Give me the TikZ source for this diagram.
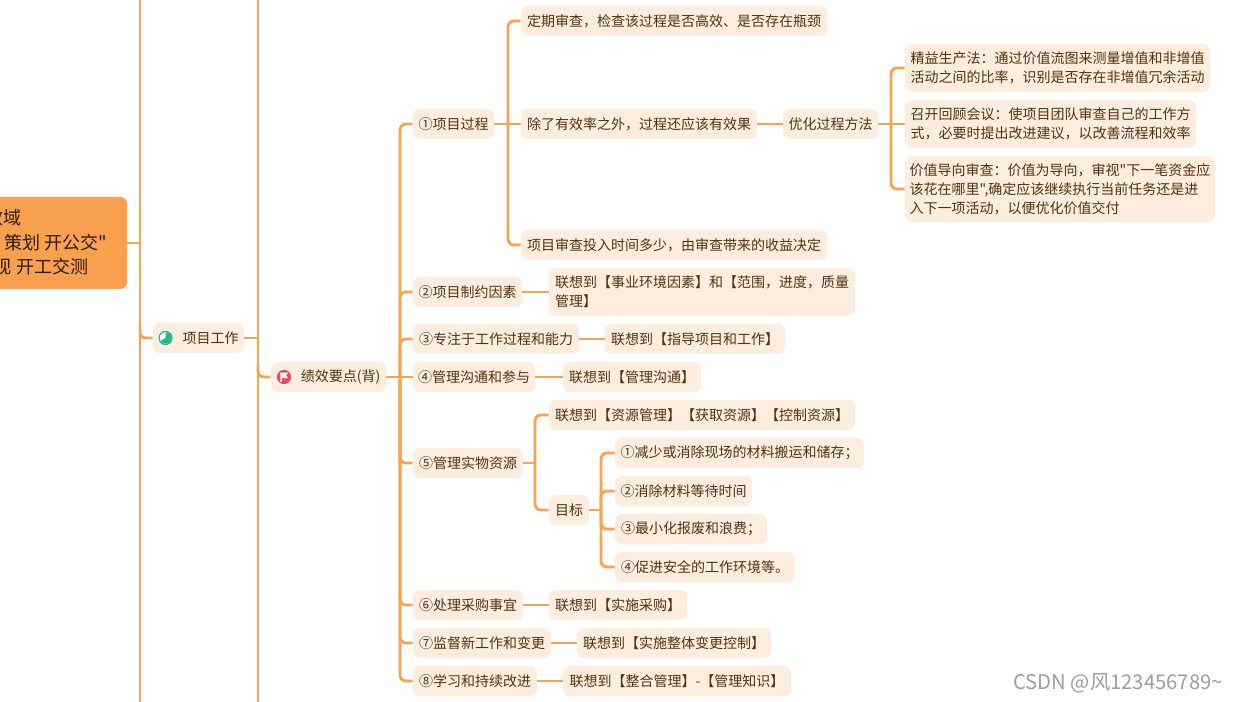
\documentclass[tikz,border=0pt]{standalone}
\usepackage{fontspec}
\newfontfamily\cjkfont{Noto Sans CJK SC}
\definecolor{lineC}{HTML}{F9A351}
\definecolor{fillC}{HTML}{FDEDDF}
\definecolor{textC}{HTML}{52320E}
\definecolor{rootC}{HTML}{F8A04D}
\definecolor{rootT}{HTML}{2A1C0A}
\definecolor{markC}{HTML}{9E9E9E}
\definecolor{greenI}{HTML}{22B883}
\definecolor{redI}{HTML}{EE4A55}
\tikzset{
  conn/.style={draw=lineC,line width=2.1pt,rounded corners=4.5pt},
  topic/.style={fill=fillC,text=textC,rounded corners=5pt,inner sep=0pt,align=left,
    font=\cjkfont\fontsize{10.5}{14.25}\selectfont},
  roottext/.style={text=rootT,inner sep=0pt,anchor=east,font=\cjkfont\fontsize{13.5}{18}\selectfont},
}
% name, x1, x2, centre y, height, text
\newcommand{\topicnode}[6]{%
  \pgfmathsetmacro{\tx}{(#2+#3)/2}\pgfmathsetmacro{\tw}{(#3-#2)*0.75}\pgfmathsetmacro{\th}{#5*0.75}%
  \node[topic,minimum width=\tw pt,minimum height=\th pt] (#1) at (\tx,#4) {#6};}
\begin{document}
\begin{tikzpicture}[x=0.75pt,y=-0.75pt]
\useasboundingbox (0,0) rectangle (1240,702);
\clip (0,0) rectangle (1240,702);
\fill[white] (0,0) rectangle (1240,702);
% spine end points
\coordinate (a0) at (140,-2); \coordinate (a1) at (140,704);
\coordinate (b0) at (258,-2); \coordinate (b1) at (258,704);
\coordinate (ay) at (140,243); \coordinate (ay2) at (140,338);
\coordinate (by) at (258,338); \coordinate (by2) at (258,377);
\coordinate (c0) at (400,377);
\coordinate (d0) at (508,124);
\coordinate (e0) at (891,124);
\coordinate (f0) at (535,463);
\coordinate (g0) at (601,510);
% nodes
\node[fill=rootC,rounded corners=5pt,minimum width=187.5pt,minimum height=69pt,inner sep=0pt] (root) at (2,243) {};
\node[roottext] (r1) at (22,218) {绩效域};
\node[roottext] (r2) at (107,243) {动\hspace{3pt}策划\hspace{3pt}开公交"};
\node[roottext] (r3) at (89,267) {视\hspace{4pt}开工交测};
\topicnode{work}{153}{244}{338}{30}{\hspace*{18pt}项目工作}
\topicnode{perf}{271}{386}{377}{30}{\hspace*{18pt}绩效要点(背)}
\topicnode{p1}{413}{494}{124}{30}{①项目过程}
\topicnode{p2}{413}{522}{292}{30}{②项目制约因素}
\topicnode{p3}{413}{579}{339}{30}{③专注于工作过程和能力}
\topicnode{p4}{413}{535}{377}{30}{④管理沟通和参与}
\topicnode{p5}{413}{523}{463}{30}{⑤管理实物资源}
\topicnode{p6}{413}{523}{605}{30}{⑥处理采购事宜}
\topicnode{p7}{413}{551}{643}{30}{⑦监督新工作和变更}
\topicnode{p8}{413}{537}{681}{30}{⑧学习和持续改进}
\topicnode{q1}{521}{827}{21}{30}{定期审查，检查该过程是否高效、是否存在瓶颈}
\topicnode{q2}{521}{757}{124}{30}{除了有效率之外，过程还应该有效果}
\topicnode{q3}{521}{827}{245}{30}{项目审查投入时间多少，由审查带来的收益决定}
\topicnode{m}{783}{878}{124}{30}{优化过程方法}
\topicnode{m1}{905}{1210}{68}{48}{精益生产法：通过价值流图来测量增值和非增值\\活动之间的比率，识别是否存在非增值冗余活动}
\topicnode{m2}{905}{1196}{124}{48}{召开回顾会议：使项目团队审查自己的工作方\\式，必要时提出改进建议，以改善流程和效率}
\topicnode{m3}{905}{1215}{189}{66}{价值导向审查：价值为导向，审视"下一笔资金应\\该花在哪里",确定应该继续执行当前任务还是进\\入下一项活动，以便优化价值交付}
\topicnode{l2}{549}{855}{292}{48}{联想到【事业环境因素】和【范围，进度，质量\\管理】}
\topicnode{l3}{605}{785}{339}{30}{联想到【指导项目和工作】}
\topicnode{l4}{563}{701}{377}{30}{联想到【管理沟通】}
\topicnode{l5}{549}{855}{415}{30}{联想到【资源管理】【获取资源】【控制资源】}
\topicnode{goal}{549}{589}{510}{30}{目标}
\topicnode{g1}{615}{864}{453}{30}{①减少或消除现场的材料搬运和储存；}
\topicnode{g2}{615}{752}{491}{30}{②消除材料等待时间}
\topicnode{g3}{615}{767}{529}{30}{③最小化报废和浪费；}
\topicnode{g4}{615}{795}{567}{30}{④促进安全的工作环境等。}
\topicnode{l6}{549}{687}{605}{30}{联想到【实施采购】}
\topicnode{l7}{577}{771}{643}{30}{联想到【实施整体变更控制】}
\topicnode{l8}{563}{791}{681}{30}{联想到【整合管理】-【管理知识】}
\node[text=markC,inner sep=0pt,font=\cjkfont\fontsize{15.2}{18}\selectfont] (wm) at (1118,683) {CSDN @风123456789\char126 };
% connectors
\draw[conn] (a0) -- (a1);
\draw[conn] (b0) -- (b1);
\draw[conn] (root.east) -- (ay);
\draw[conn] (ay2) ++(0,-12) |- (work.west);
\draw[conn] (work.east) -- (by);
\draw[conn] (by2) ++(0,-12) |- (perf.west);
\draw[conn] (perf.east) -- (c0);
\foreach \n in {p1,p2,p3,p5,p6,p7,p8} \draw[conn] (c0) |- (\n.west);
\draw[conn] (c0) -- (p4.west);
\draw[conn] (p1.east) -- (d0);
\foreach \n in {q1,q3} \draw[conn] (d0) |- (\n.west);
\draw[conn] (d0) -- (q2.west);
\draw[conn] (q2) -- (m);
\draw[conn] (m.east) -- (e0);
\foreach \n in {m1,m3} \draw[conn] (e0) |- (\n.west);
\draw[conn] (e0) -- (m2.west);
\draw[conn] (p2.east) -- (l2.west);
\draw[conn] (p3) -- (l3);
\draw[conn] (p4) -- (l4);
\draw[conn] (p6) -- (l6);
\draw[conn] (p7) -- (l7);
\draw[conn] (p8) -- (l8);
\draw[conn] (p5.east) -- (f0);
\draw[conn] (f0) |- (l5.west);
\draw[conn] (f0) |- (goal.west);
\draw[conn] (goal.east) -- (g0);
\foreach \n in {g1,g2,g3,g4} \draw[conn] (g0) |- (\n.west);
% icons
\begin{scope}[x=1pt,y=1pt,shift={(165.5*0.75pt,-338*0.75pt)}]
  \fill[white] (0,0) circle (6.2pt);
  \fill[greenI] (0,0) circle (5.4pt);
  \fill[white] (0,0) circle (4.3pt);
  \fill[greenI] (0,0) -- (0,4.3) arc[start angle=90,end angle=-150,radius=4.3pt] -- cycle;
\end{scope}
\begin{scope}[x=1pt,y=1pt,shift={(284*0.75pt,-377*0.75pt)}]
  \fill[white] (0,0) circle (6.2pt);
  \fill[redI] (0,0) circle (5.4pt);
  \fill[white] (-2.8,3.2) -- (3,3.2) -- (1.6,1.2) -- (3,-0.9) -- (-1.6,-0.9) -- (-1.6,-3.6) -- (-2.8,-3.6) -- cycle;
\end{scope}
\end{tikzpicture}
\end{document}
